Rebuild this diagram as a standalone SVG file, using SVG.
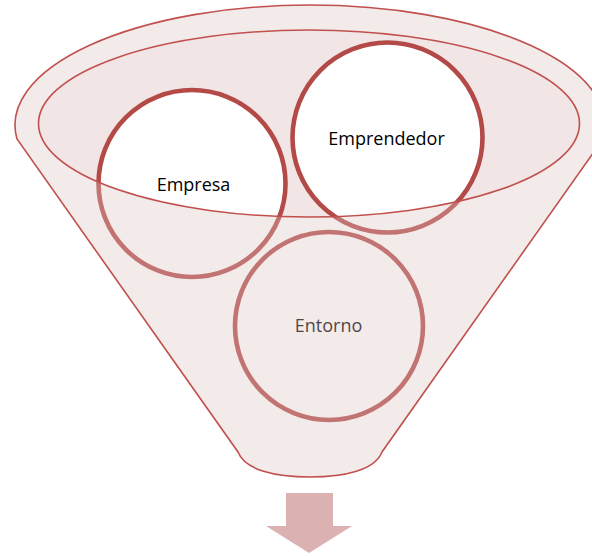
<svg xmlns="http://www.w3.org/2000/svg" width="592" height="556" viewBox="0 0 592 556">
<defs>
<style>
.rim{fill:none;stroke:#C0504D;stroke-width:1.6}
.circ{fill:#FFFFFF;stroke:#B34A47;stroke-width:4.6}
.lbl{font-family:"Open Sans","Liberation Sans",sans-serif;font-size:18px;fill:#000000;text-anchor:middle}
</style>
</defs>
<g id="funnel-back">
<path d="M17 139 A295 120 0 1 1 603 139 L382 452 C375 470 345 477 310 477 C275 477 245 470 238 452 Z" fill="#FFFFFF"/>
<ellipse cx="309" cy="123.5" rx="270.5" ry="93.5" fill="#F1E5E5"/>
</g>
<g id="node-empresa">
<circle class="circ" cx="192" cy="183.5" r="93.5"/>
<text class="lbl" x="193.5" y="191">Empresa</text>
</g>
<g id="node-emprendedor">
<circle class="circ" cx="387.5" cy="137.5" r="95"/>
<text class="lbl" x="386.5" y="145">Emprendedor</text>
</g>
<g id="node-entorno">
<circle class="circ" cx="329" cy="326" r="94"/>
<text class="lbl" x="328.5" y="332">Entorno</text>
</g>
<g id="funnel-front">
<path d="M17 139 A295 120 0 1 1 603 139 L382 452 C375 470 345 477 310 477 C275 477 245 470 238 452 Z M38.5 123.5 A270.5 93.5 0 1 0 579.5 123.5 A270.5 93.5 0 1 0 38.5 123.5 Z" fill="#DEC3C2" fill-opacity="0.35" fill-rule="evenodd"/>
<path class="rim" d="M17 139 A295 120 0 1 1 603 139 L382 452 C375 470 345 477 310 477 C275 477 245 470 238 452 Z"/>
<ellipse class="rim" cx="309" cy="123.5" rx="270.5" ry="93.5"/>
</g>
<g id="connectors">
<path d="M286 493 L333 493 L333 526 L352 526 L309 553 L266 526 L286 526 Z" fill="#DBB2B1"/>
</g>
</svg>
